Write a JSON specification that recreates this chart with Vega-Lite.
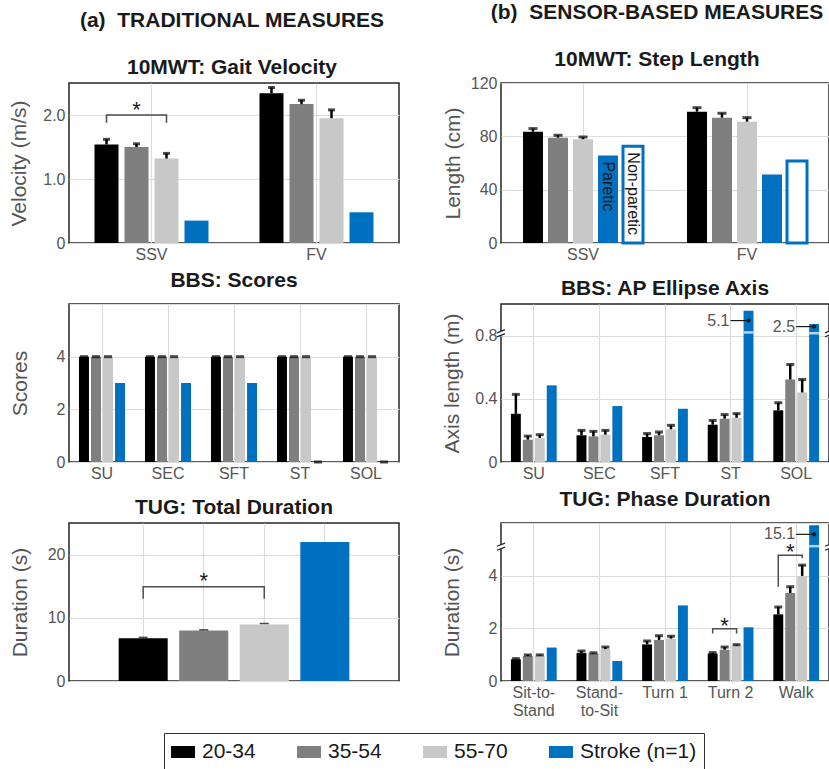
{
  "$schema": "https://vega.github.io/schema/vega-lite/v6.json",
  "padding": {"left": 8, "top": 1, "right": 0, "bottom": 0},
  "background": "white",
  "datasets": {
    "gv": [
      {"cat": "SSV", "grp": "20-34", "v": 1.54, "hi": 1.62},
      {"cat": "SSV", "grp": "35-54", "v": 1.50, "hi": 1.55},
      {"cat": "SSV", "grp": "55-70", "v": 1.32, "hi": 1.40},
      {"cat": "SSV", "grp": "Stroke (n=1)", "v": 0.35},
      {"cat": "FV", "grp": "20-34", "v": 2.34, "hi": 2.43},
      {"cat": "FV", "grp": "35-54", "v": 2.17, "hi": 2.23},
      {"cat": "FV", "grp": "55-70", "v": 1.95, "hi": 2.08},
      {"cat": "FV", "grp": "Stroke (n=1)", "v": 0.48}
    ],
    "gvb": [
      {"cat": "SSV", "grp": "20-34", "v": 1.88, "o": 1},
      {"cat": "SSV", "grp": "20-34", "v": 2.0, "o": 2},
      {"cat": "SSV", "grp": "55-70", "v": 2.0, "o": 3},
      {"cat": "SSV", "grp": "55-70", "v": 1.88, "o": 4}
    ],
    "gvs": [{"cat": "SSV", "grp": "35-54", "v": 2.08}],
    "sl": [
      {"cat": "SSV", "slot": "20-34", "grp": "20-34", "v": 83.5, "hi": 85.8},
      {"cat": "SSV", "slot": "35-54", "grp": "35-54", "v": 79, "hi": 80.8},
      {"cat": "SSV", "slot": "55-70", "grp": "55-70", "v": 77.8, "hi": 79.5},
      {"cat": "SSV", "slot": "Paretic", "grp": "Stroke (n=1)", "v": 65.7},
      {"cat": "SSV", "slot": "Non-paretic", "grp": "Stroke (n=1)", "v": 72.5},
      {"cat": "FV", "slot": "20-34", "grp": "20-34", "v": 98.5, "hi": 101.5},
      {"cat": "FV", "slot": "35-54", "grp": "35-54", "v": 94, "hi": 97.3},
      {"cat": "FV", "slot": "55-70", "grp": "55-70", "v": 91, "hi": 94},
      {"cat": "FV", "slot": "Paretic", "grp": "Stroke (n=1)", "v": 51.3},
      {"cat": "FV", "slot": "Non-paretic", "grp": "Stroke (n=1)", "v": 61.5}
    ],
    "bbs": [
      {"cat": "SU", "grp": "20-34", "v": 4, "hi": 4},
      {"cat": "SU", "grp": "35-54", "v": 4, "hi": 4},
      {"cat": "SU", "grp": "55-70", "v": 4, "hi": 4},
      {"cat": "SU", "grp": "Stroke (n=1)", "v": 3},
      {"cat": "SEC", "grp": "20-34", "v": 4, "hi": 4},
      {"cat": "SEC", "grp": "35-54", "v": 4, "hi": 4},
      {"cat": "SEC", "grp": "55-70", "v": 4, "hi": 4},
      {"cat": "SEC", "grp": "Stroke (n=1)", "v": 3},
      {"cat": "SFT", "grp": "20-34", "v": 4, "hi": 4},
      {"cat": "SFT", "grp": "35-54", "v": 4, "hi": 4},
      {"cat": "SFT", "grp": "55-70", "v": 4, "hi": 4},
      {"cat": "SFT", "grp": "Stroke (n=1)", "v": 3},
      {"cat": "ST", "grp": "20-34", "v": 4, "hi": 4},
      {"cat": "ST", "grp": "35-54", "v": 4, "hi": 4},
      {"cat": "ST", "grp": "55-70", "v": 4, "hi": 4},
      {"cat": "ST", "grp": "Stroke (n=1)", "v": 0, "hi": 0},
      {"cat": "SOL", "grp": "20-34", "v": 4, "hi": 4},
      {"cat": "SOL", "grp": "35-54", "v": 4, "hi": 4},
      {"cat": "SOL", "grp": "55-70", "v": 4, "hi": 4},
      {"cat": "SOL", "grp": "Stroke (n=1)", "v": 0, "hi": 0}
    ],
    "ap": [
      {"cat": "SU", "grp": "20-34", "v": 0.305, "hi": 0.428},
      {"cat": "SU", "grp": "35-54", "v": 0.141, "hi": 0.164},
      {"cat": "SU", "grp": "55-70", "v": 0.152, "hi": 0.173},
      {"cat": "SU", "grp": "Stroke (n=1)", "v": 0.485},
      {"cat": "SEC", "grp": "20-34", "v": 0.169, "hi": 0.2},
      {"cat": "SEC", "grp": "35-54", "v": 0.162, "hi": 0.194},
      {"cat": "SEC", "grp": "55-70", "v": 0.173, "hi": 0.2},
      {"cat": "SEC", "grp": "Stroke (n=1)", "v": 0.354},
      {"cat": "SFT", "grp": "20-34", "v": 0.158, "hi": 0.18},
      {"cat": "SFT", "grp": "35-54", "v": 0.169, "hi": 0.19},
      {"cat": "SFT", "grp": "55-70", "v": 0.207, "hi": 0.232},
      {"cat": "SFT", "grp": "Stroke (n=1)", "v": 0.337},
      {"cat": "ST", "grp": "20-34", "v": 0.236, "hi": 0.263},
      {"cat": "ST", "grp": "35-54", "v": 0.274, "hi": 0.3},
      {"cat": "ST", "grp": "55-70", "v": 0.28, "hi": 0.306},
      {"cat": "ST", "grp": "Stroke (n=1)", "v": 0.958},
      {"cat": "SOL", "grp": "20-34", "v": 0.327, "hi": 0.375},
      {"cat": "SOL", "grp": "35-54", "v": 0.522, "hi": 0.617},
      {"cat": "SOL", "grp": "55-70", "v": 0.44, "hi": 0.522},
      {"cat": "SOL", "grp": "Stroke (n=1)", "v": 0.874}
    ],
    "apa": [
      {"cat": "ST", "grp": "Stroke (n=1)", "ly": 0.895, "brk": 0.82, "txt": "5.1"},
      {"cat": "SOL", "grp": "Stroke (n=1)", "ly": 0.857, "brk": 0.815, "txt": "2.5"}
    ],
    "apk": [
      {"cat": "SU", "side": "l", "v": 0.815},
      {"cat": "SOL", "side": "r", "v": 0.815}
    ],
    "tug": [
      {"grp": "20-34", "v": 6.75, "hi": 6.9},
      {"grp": "35-54", "v": 8.0, "hi": 8.1},
      {"grp": "55-70", "v": 8.95, "hi": 9.1},
      {"grp": "Stroke (n=1)", "v": 22.0}
    ],
    "tugb": [
      {"grp": "20-34", "v": 13, "o": 1},
      {"grp": "20-34", "v": 14.9, "o": 2},
      {"grp": "55-70", "v": 14.9, "o": 3},
      {"grp": "55-70", "v": 13, "o": 4}
    ],
    "tugs": [{"grp": "35-54", "v": 15.8}],
    "ph": [
      {"cat": "Sit-to-Stand", "grp": "20-34", "v": 0.82, "hi": 0.85},
      {"cat": "Sit-to-Stand", "grp": "35-54", "v": 0.95, "hi": 0.99},
      {"cat": "Sit-to-Stand", "grp": "55-70", "v": 0.96, "hi": 0.99},
      {"cat": "Sit-to-Stand", "grp": "Stroke (n=1)", "v": 1.27},
      {"cat": "Stand-to-Sit", "grp": "20-34", "v": 1.06, "hi": 1.14},
      {"cat": "Stand-to-Sit", "grp": "35-54", "v": 1.05, "hi": 1.07},
      {"cat": "Stand-to-Sit", "grp": "55-70", "v": 1.21, "hi": 1.29},
      {"cat": "Stand-to-Sit", "grp": "Stroke (n=1)", "v": 0.76},
      {"cat": "Turn 1", "grp": "20-34", "v": 1.39, "hi": 1.52},
      {"cat": "Turn 1", "grp": "35-54", "v": 1.56, "hi": 1.72},
      {"cat": "Turn 1", "grp": "55-70", "v": 1.61, "hi": 1.70},
      {"cat": "Turn 1", "grp": "Stroke (n=1)", "v": 2.87},
      {"cat": "Turn 2", "grp": "20-34", "v": 1.04, "hi": 1.08},
      {"cat": "Turn 2", "grp": "35-54", "v": 1.19, "hi": 1.29},
      {"cat": "Turn 2", "grp": "55-70", "v": 1.34, "hi": 1.38},
      {"cat": "Turn 2", "grp": "Stroke (n=1)", "v": 2.04},
      {"cat": "Walk", "grp": "20-34", "v": 2.53, "hi": 2.81},
      {"cat": "Walk", "grp": "35-54", "v": 3.34, "hi": 3.58},
      {"cat": "Walk", "grp": "55-70", "v": 3.99, "hi": 4.40},
      {"cat": "Walk", "grp": "Stroke (n=1)", "v": 5.91}
    ],
    "pha": [
      {"cat": "Walk", "grp": "Stroke (n=1)", "ly": 5.57, "brk": 5.12, "txt": "15.1"}
    ],
    "phk": [
      {"cat": "Sit-to-Stand", "side": "l", "v": 5.1},
      {"cat": "Walk", "side": "r", "v": 5.1}
    ],
    "phb": [
      {"id": "t2", "cat": "Turn 2", "grp": "20-34", "v": 1.80, "o": 1},
      {"id": "t2", "cat": "Turn 2", "grp": "20-34", "v": 1.98, "o": 2},
      {"id": "t2", "cat": "Turn 2", "grp": "55-70", "v": 1.98, "o": 3},
      {"id": "t2", "cat": "Turn 2", "grp": "55-70", "v": 1.80, "o": 4},
      {"id": "w", "cat": "Walk", "grp": "20-34", "v": 3.58, "o": 1},
      {"id": "w", "cat": "Walk", "grp": "20-34", "v": 4.78, "o": 2},
      {"id": "w", "cat": "Walk", "grp": "55-70", "v": 4.78, "o": 3},
      {"id": "w", "cat": "Walk", "grp": "55-70", "v": 4.66, "o": 4}
    ],
    "phs": [
      {"cat": "Turn 2", "grp": "35-54", "v": 2.09},
      {"cat": "Walk", "grp": "35-54", "v": 4.88}
    ]
  },
  "bounds": "flush",
  "columns": 2,
  "spacing": {"row": 61, "column": 102},
  "resolve": {"scale": {"xOffset": "independent"}},
  "concat": [
    {
      "width": 330, "height": 160,
      "title": {"text": "(a)\u00a0 TRADITIONAL MEASURES", "subtitle": "10MWT: Gait Velocity", "fontSize": 21, "subtitleFont": "Liberation Sans", "subtitleFontSize": 21, "subtitleFontWeight": "bold", "subtitleColor": "#1a1a1a", "subtitlePadding": 26, "dx": -2},
      "data": {"name": "gv"},
      "encoding": {
        "x": {"field": "cat", "type": "nominal", "scale": {"domain": ["SSV", "FV"], "paddingInner": 0, "paddingOuter": 0}, "axis": {"title": null}},
        "xOffset": {"field": "grp", "type": "nominal", "scale": {"domain": ["20-34", "35-54", "55-70", "Stroke (n=1)"], "paddingInner": 0.2, "paddingOuter": 0.85}}
      },
      "layer": [
        {"mark": "bar", "encoding": {
          "y": {"field": "v", "type": "quantitative", "scale": {"domain": [0, 2.5], "nice": false}, "axis": {"title": "Velocity (m/s)", "values": [0, 0.5, 1, 1.5, 2, 2.5], "labelExpr": "datum.value == 0 ? '0' : (datum.value == 1 || datum.value == 2) ? format(datum.value, '.1f') : ''", "titlePadding": 13}},
          "color": {"field": "grp", "type": "nominal", "scale": {"domain": ["20-34", "35-54", "55-70", "Stroke (n=1)"], "range": ["#000000", "#7f7f7f", "#c8c8c8", "#0070c0"]}, "legend": {"title": null, "orient": "none", "legendX": 95, "legendY": 650, "direction": "horizontal", "columns": 4, "symbolType": "M-1,-0.5L1,-0.5L1,0.5L-1,0.5Z", "symbolSize": 576, "symbolStrokeWidth": 0, "symbolOpacity": 1, "labelFontSize": 21, "labelColor": "#1a1a1a", "labelOffset": 7, "columnPadding": 41, "padding": 7, "strokeColor": "#333333", "labelLimit": 300}}
        }},
        {"transform": [{"filter": "isValid(datum.hi)"}], "mark": {"type": "rule", "color": "#000000", "strokeWidth": 2.5}, "encoding": {"y": {"field": "v", "type": "quantitative"}, "y2": {"field": "hi"}}},
        {"transform": [{"filter": "isValid(datum.hi)"}], "mark": {"type": "tick", "orient": "horizontal", "color": "#000000", "size": 7, "thickness": 3}, "encoding": {"y": {"field": "hi", "type": "quantitative"}}},
        {"data": {"name": "gvb"}, "mark": {"type": "line", "color": "#4d4d4d", "strokeWidth": 1.5}, "encoding": {"y": {"field": "v", "type": "quantitative"}, "order": {"field": "o"}}},
        {"data": {"name": "gvs"}, "mark": {"type": "text", "text": "*", "fontSize": 22, "color": "#1a1a1a", "baseline": "middle"}, "encoding": {"y": {"field": "v", "type": "quantitative"}}}
      ]
    },
    {
      "width": 328, "height": 160,
      "title": {"text": "(b)\u00a0 SENSOR-BASED MEASURES", "subtitle": "10MWT: Step Length", "fontSize": 21, "subtitleFont": "Liberation Sans", "subtitleFontSize": 21, "subtitleFontWeight": "bold", "subtitleColor": "#1a1a1a", "subtitlePadding": 26, "dx": -8},
      "data": {"name": "sl"},
      "encoding": {
        "x": {"field": "cat", "type": "nominal", "scale": {"domain": ["SSV", "FV"], "paddingInner": 0, "paddingOuter": 0}, "axis": {"title": null}},
        "xOffset": {"field": "slot", "type": "nominal", "scale": {"domain": ["20-34", "35-54", "55-70", "Paretic", "Non-paretic"], "paddingInner": 0.2, "paddingOuter": 0.88}}
      },
      "layer": [
        {"transform": [{"filter": "datum.slot != 'Non-paretic'"}], "mark": "bar", "encoding": {
          "y": {"field": "v", "type": "quantitative", "scale": {"domain": [0, 120], "nice": false}, "axis": {"title": "Length (cm)", "values": [0, 20, 40, 60, 80, 100, 120], "labelExpr": "(datum.value % 40 == 0) ? datum.label : ''", "titlePadding": 7}},
          "color": {"field": "grp", "type": "nominal", "scale": {"domain": ["20-34", "35-54", "55-70", "Stroke (n=1)"], "range": ["#000000", "#7f7f7f", "#c8c8c8", "#0070c0"]}, "legend": {"title": null, "orient": "none", "legendX": 95, "legendY": 650, "direction": "horizontal", "columns": 4, "symbolType": "M-1,-0.5L1,-0.5L1,0.5L-1,0.5Z", "symbolSize": 576, "symbolStrokeWidth": 0, "symbolOpacity": 1, "labelFontSize": 21, "labelColor": "#1a1a1a", "labelOffset": 7, "columnPadding": 41, "padding": 7, "strokeColor": "#333333", "labelLimit": 300}}
        }},
        {"transform": [{"filter": "datum.slot == 'Non-paretic'"}], "mark": {"type": "bar", "fill": "white", "stroke": "#0070c0", "strokeWidth": 3}, "encoding": {"y": {"field": "v", "type": "quantitative"}}},
        {"transform": [{"filter": "isValid(datum.hi)"}], "mark": {"type": "rule", "color": "#000000", "strokeWidth": 2.5}, "encoding": {"y": {"field": "v", "type": "quantitative"}, "y2": {"field": "hi"}}},
        {"transform": [{"filter": "isValid(datum.hi)"}], "mark": {"type": "tick", "orient": "horizontal", "color": "#000000", "size": 9, "thickness": 3}, "encoding": {"y": {"field": "hi", "type": "quantitative"}}},
        {"transform": [{"filter": "datum.cat == 'SSV' && (datum.slot == 'Paretic' || datum.slot == 'Non-paretic')"}], "mark": {"type": "text", "angle": 90, "align": "left", "baseline": "middle", "dx": 6, "fontSize": 16, "color": "#1a1a1a"}, "encoding": {"y": {"field": "v", "type": "quantitative"}, "text": {"field": "slot"}}}
      ]
    },
    {
      "width": 330, "height": 158,
      "title": "BBS: Scores",
      "data": {"name": "bbs"},
      "encoding": {
        "x": {"field": "cat", "type": "nominal", "scale": {"domain": ["SU", "SEC", "SFT", "ST", "SOL"], "paddingInner": 0, "paddingOuter": 0}, "axis": {"title": null}},
        "xOffset": {"field": "grp", "type": "nominal", "scale": {"domain": ["20-34", "35-54", "55-70", "Stroke (n=1)"], "paddingInner": 0.17, "paddingOuter": 0.83}}
      },
      "layer": [
        {"mark": "bar", "encoding": {
          "y": {"field": "v", "type": "quantitative", "scale": {"domain": [0, 6], "nice": false}, "axis": {"title": "Scores", "values": [0, 1, 2, 3, 4, 5, 6], "labelExpr": "(datum.value == 0 || datum.value == 2 || datum.value == 4) ? datum.label : ''", "titlePadding": 26}},
          "color": {"field": "grp", "type": "nominal", "scale": {"domain": ["20-34", "35-54", "55-70", "Stroke (n=1)"], "range": ["#000000", "#7f7f7f", "#c8c8c8", "#0070c0"]}, "legend": {"title": null, "orient": "none", "legendX": 95, "legendY": 650, "direction": "horizontal", "columns": 4, "symbolType": "M-1,-0.5L1,-0.5L1,0.5L-1,0.5Z", "symbolSize": 576, "symbolStrokeWidth": 0, "symbolOpacity": 1, "labelFontSize": 21, "labelColor": "#1a1a1a", "labelOffset": 7, "columnPadding": 41, "padding": 7, "strokeColor": "#333333", "labelLimit": 300}}
        }},
        {"transform": [{"filter": "isValid(datum.hi)"}], "mark": {"type": "tick", "orient": "horizontal", "color": "#000000", "size": 8, "thickness": 3}, "encoding": {"y": {"field": "hi", "type": "quantitative"}}}
      ]
    },
    {
      "width": 328, "height": 158,
      "title": "BBS: AP Ellipse Axis",
      "data": {"name": "ap"},
      "encoding": {
        "x": {"field": "cat", "type": "nominal", "scale": {"domain": ["SU", "SEC", "SFT", "ST", "SOL"], "paddingInner": 0, "paddingOuter": 0}, "axis": {"title": null}},
        "xOffset": {"field": "grp", "type": "nominal", "scale": {"domain": ["20-34", "35-54", "55-70", "Stroke (n=1)"], "paddingInner": 0.17, "paddingOuter": 0.83}}
      },
      "layer": [
        {"mark": "bar", "encoding": {
          "y": {"field": "v", "type": "quantitative", "scale": {"domain": [0, 1], "nice": false}, "axis": {"title": "Axis length (m)", "values": [0, 0.2, 0.4, 0.6, 0.8, 1], "labelExpr": "datum.value == 0 ? '0' : (datum.value == 0.4 || datum.value == 0.8) ? format(datum.value, '.1f') : ''", "titlePadding": 12}},
          "color": {"field": "grp", "type": "nominal", "scale": {"domain": ["20-34", "35-54", "55-70", "Stroke (n=1)"], "range": ["#000000", "#7f7f7f", "#c8c8c8", "#0070c0"]}, "legend": {"title": null, "orient": "none", "legendX": 95, "legendY": 650, "direction": "horizontal", "columns": 4, "symbolType": "M-1,-0.5L1,-0.5L1,0.5L-1,0.5Z", "symbolSize": 576, "symbolStrokeWidth": 0, "symbolOpacity": 1, "labelFontSize": 21, "labelColor": "#1a1a1a", "labelOffset": 7, "columnPadding": 41, "padding": 7, "strokeColor": "#333333", "labelLimit": 300}}
        }},
        {"transform": [{"filter": "isValid(datum.hi)"}], "mark": {"type": "rule", "color": "#000000", "strokeWidth": 2.5}, "encoding": {"y": {"field": "v", "type": "quantitative"}, "y2": {"field": "hi"}}},
        {"transform": [{"filter": "isValid(datum.hi)"}], "mark": {"type": "tick", "orient": "horizontal", "color": "#000000", "size": 8, "thickness": 3}, "encoding": {"y": {"field": "hi", "type": "quantitative"}}},
        {"data": {"name": "apa"}, "mark": {"type": "tick", "orient": "horizontal", "color": "white", "size": 10, "thickness": 2.5}, "encoding": {"y": {"field": "brk", "type": "quantitative"}}},
        {"data": {"name": "apa"}, "mark": {"type": "point", "shape": "M-1,0L0,0", "size": 1296, "filled": false, "stroke": "#1a1a1a", "strokeWidth": 1.2, "opacity": 1}, "encoding": {"y": {"field": "ly", "type": "quantitative"}}},
        {"data": {"name": "apa"}, "mark": {"type": "circle", "size": 18, "color": "#1a1a1a", "opacity": 1}, "encoding": {"y": {"field": "ly", "type": "quantitative"}}},
        {"data": {"name": "apa"}, "mark": {"type": "text", "align": "right", "baseline": "middle", "dx": -19, "fontSize": 16, "color": "#555555"}, "encoding": {"y": {"field": "ly", "type": "quantitative"}, "text": {"field": "txt"}}},
        {"data": {"name": "apk"}, "transform": [{"filter": "datum.side == 'l'"}], "mark": {"type": "point", "shape": "M-1,-0.1L1,-0.9L1,0.1L-1,0.9Z", "size": 64, "filled": true, "color": "white", "opacity": 1}, "encoding": {"x": {"field": "cat", "type": "nominal", "bandPosition": 0}, "xOffset": null, "y": {"field": "v", "type": "quantitative"}}},
        {"data": {"name": "apk"}, "transform": [{"filter": "datum.side == 'l'"}], "mark": {"type": "point", "shape": "M-1,-0.1L1,-0.9M-1,0.9L1,0.1", "size": 64, "filled": false, "stroke": "#262626", "strokeWidth": 1.2, "opacity": 1}, "encoding": {"x": {"field": "cat", "type": "nominal", "bandPosition": 0}, "xOffset": null, "y": {"field": "v", "type": "quantitative"}}},
        {"data": {"name": "apk"}, "transform": [{"filter": "datum.side == 'r'"}], "mark": {"type": "point", "shape": "M-1,-0.1L1,-0.9L1,0.1L-1,0.9Z", "size": 64, "filled": true, "color": "white", "opacity": 1}, "encoding": {"x": {"field": "cat", "type": "nominal", "bandPosition": 1}, "xOffset": null, "y": {"field": "v", "type": "quantitative"}}},
        {"data": {"name": "apk"}, "transform": [{"filter": "datum.side == 'r'"}], "mark": {"type": "point", "shape": "M-1,-0.1L1,-0.9M-1,0.9L1,0.1", "size": 64, "filled": false, "stroke": "#262626", "strokeWidth": 1.2, "opacity": 1}, "encoding": {"x": {"field": "cat", "type": "nominal", "bandPosition": 1}, "xOffset": null, "y": {"field": "v", "type": "quantitative"}}}
      ]
    },
    {
      "width": 330, "height": 158,
      "title": "TUG: Total Duration",
      "data": {"name": "tug"},
      "encoding": {
        "x": {"field": "grp", "type": "nominal", "scale": {"domain": ["20-34", "35-54", "55-70", "Stroke (n=1)"], "paddingInner": 0.19, "paddingOuter": 0.82}, "axis": {"title": null, "labels": false}}
      },
      "layer": [
        {"mark": "bar", "encoding": {
          "y": {"field": "v", "type": "quantitative", "scale": {"domain": [0, 25], "nice": false}, "axis": {"title": "Duration (s)", "values": [0, 5, 10, 15, 20, 25], "labelExpr": "(datum.value == 0 || datum.value == 10 || datum.value == 20) ? datum.label : ''", "titlePadding": 17}},
          "color": {"field": "grp", "type": "nominal", "scale": {"domain": ["20-34", "35-54", "55-70", "Stroke (n=1)"], "range": ["#000000", "#7f7f7f", "#c8c8c8", "#0070c0"]}, "legend": {"title": null, "orient": "none", "legendX": 95, "legendY": 650, "direction": "horizontal", "columns": 4, "symbolType": "M-1,-0.5L1,-0.5L1,0.5L-1,0.5Z", "symbolSize": 576, "symbolStrokeWidth": 0, "symbolOpacity": 1, "labelFontSize": 21, "labelColor": "#1a1a1a", "labelOffset": 7, "columnPadding": 41, "padding": 7, "strokeColor": "#333333", "labelLimit": 300}}
        }},
        {"transform": [{"filter": "isValid(datum.hi)"}], "mark": {"type": "tick", "orient": "horizontal", "color": "#000000", "size": 9, "thickness": 1.5}, "encoding": {"y": {"field": "hi", "type": "quantitative"}}},
        {"data": {"name": "tugb"}, "mark": {"type": "line", "color": "#4d4d4d", "strokeWidth": 1.5}, "encoding": {"y": {"field": "v", "type": "quantitative"}, "order": {"field": "o"}}},
        {"data": {"name": "tugs"}, "mark": {"type": "text", "text": "*", "fontSize": 22, "color": "#1a1a1a", "baseline": "middle"}, "encoding": {"y": {"field": "v", "type": "quantitative"}}}
      ]
    },
    {
      "width": 328, "height": 158,
      "title": "TUG: Phase Duration",
      "data": {"name": "ph"},
      "encoding": {
        "x": {"field": "cat", "type": "nominal", "scale": {"domain": ["Sit-to-Stand", "Stand-to-Sit", "Turn 1", "Turn 2", "Walk"], "paddingInner": 0, "paddingOuter": 0}, "axis": {"title": null, "labelLineHeight": 18, "labelExpr": "datum.value == 'Sit-to-Stand' ? ['Sit-to-', 'Stand'] : datum.value == 'Stand-to-Sit' ? ['Stand-', 'to-Sit'] : datum.label"}},
        "xOffset": {"field": "grp", "type": "nominal", "scale": {"domain": ["20-34", "35-54", "55-70", "Stroke (n=1)"], "paddingInner": 0.17, "paddingOuter": 0.83}}
      },
      "layer": [
        {"mark": "bar", "encoding": {
          "y": {"field": "v", "type": "quantitative", "scale": {"domain": [0, 6], "nice": false}, "axis": {"title": "Duration (s)", "values": [0, 1, 2, 3, 4, 5, 6], "labelExpr": "(datum.value == 0 || datum.value == 2 || datum.value == 4) ? datum.label : ''", "titlePadding": 26}},
          "color": {"field": "grp", "type": "nominal", "scale": {"domain": ["20-34", "35-54", "55-70", "Stroke (n=1)"], "range": ["#000000", "#7f7f7f", "#c8c8c8", "#0070c0"]}, "legend": {"title": null, "orient": "none", "legendX": 95, "legendY": 650, "direction": "horizontal", "columns": 4, "symbolType": "M-1,-0.5L1,-0.5L1,0.5L-1,0.5Z", "symbolSize": 576, "symbolStrokeWidth": 0, "symbolOpacity": 1, "labelFontSize": 21, "labelColor": "#1a1a1a", "labelOffset": 7, "columnPadding": 41, "padding": 7, "strokeColor": "#333333", "labelLimit": 300}}
        }},
        {"transform": [{"filter": "isValid(datum.hi)"}], "mark": {"type": "rule", "color": "#000000", "strokeWidth": 2.5}, "encoding": {"y": {"field": "v", "type": "quantitative"}, "y2": {"field": "hi"}}},
        {"transform": [{"filter": "isValid(datum.hi)"}], "mark": {"type": "tick", "orient": "horizontal", "color": "#000000", "size": 8, "thickness": 3}, "encoding": {"y": {"field": "hi", "type": "quantitative"}}},
        {"data": {"name": "pha"}, "mark": {"type": "tick", "orient": "horizontal", "color": "white", "size": 10, "thickness": 2.5}, "encoding": {"y": {"field": "brk", "type": "quantitative"}}},
        {"data": {"name": "pha"}, "mark": {"type": "point", "shape": "M-1,0L0,0", "size": 1296, "filled": false, "stroke": "#1a1a1a", "strokeWidth": 1.2, "opacity": 1}, "encoding": {"y": {"field": "ly", "type": "quantitative"}}},
        {"data": {"name": "pha"}, "mark": {"type": "circle", "size": 18, "color": "#1a1a1a", "opacity": 1}, "encoding": {"y": {"field": "ly", "type": "quantitative"}}},
        {"data": {"name": "pha"}, "mark": {"type": "text", "align": "right", "baseline": "middle", "dx": -19, "fontSize": 16, "color": "#555555"}, "encoding": {"y": {"field": "ly", "type": "quantitative"}, "text": {"field": "txt"}}},
        {"data": {"name": "phb"}, "mark": {"type": "line", "color": "#4d4d4d", "strokeWidth": 1.5}, "encoding": {"y": {"field": "v", "type": "quantitative"}, "order": {"field": "o"}, "detail": {"field": "id"}}},
        {"data": {"name": "phs"}, "mark": {"type": "text", "text": "*", "fontSize": 22, "color": "#1a1a1a", "baseline": "middle"}, "encoding": {"y": {"field": "v", "type": "quantitative"}}},
        {"data": {"name": "phk"}, "transform": [{"filter": "datum.side == 'l'"}], "mark": {"type": "point", "shape": "M-1,-0.1L1,-0.9L1,0.1L-1,0.9Z", "size": 64, "filled": true, "color": "white", "opacity": 1}, "encoding": {"x": {"field": "cat", "type": "nominal", "bandPosition": 0}, "xOffset": null, "y": {"field": "v", "type": "quantitative"}}},
        {"data": {"name": "phk"}, "transform": [{"filter": "datum.side == 'l'"}], "mark": {"type": "point", "shape": "M-1,-0.1L1,-0.9M-1,0.9L1,0.1", "size": 64, "filled": false, "stroke": "#262626", "strokeWidth": 1.2, "opacity": 1}, "encoding": {"x": {"field": "cat", "type": "nominal", "bandPosition": 0}, "xOffset": null, "y": {"field": "v", "type": "quantitative"}}},
        {"data": {"name": "phk"}, "transform": [{"filter": "datum.side == 'r'"}], "mark": {"type": "point", "shape": "M-1,-0.1L1,-0.9L1,0.1L-1,0.9Z", "size": 64, "filled": true, "color": "white", "opacity": 1}, "encoding": {"x": {"field": "cat", "type": "nominal", "bandPosition": 1}, "xOffset": null, "y": {"field": "v", "type": "quantitative"}}},
        {"data": {"name": "phk"}, "transform": [{"filter": "datum.side == 'r'"}], "mark": {"type": "point", "shape": "M-1,-0.1L1,-0.9M-1,0.9L1,0.1", "size": 64, "filled": false, "stroke": "#262626", "strokeWidth": 1.2, "opacity": 1}, "encoding": {"x": {"field": "cat", "type": "nominal", "bandPosition": 1}, "xOffset": null, "y": {"field": "v", "type": "quantitative"}}}
      ]
    }
  ],
  "config": {
    "font": "Liberation Sans",
    "view": {"stroke": "#262626", "strokeWidth": 1.5},
    "axis": {"domain": false, "ticks": false, "grid": true, "gridColor": "#dcdcdc", "gridWidth": 1.2, "labelFontSize": 16, "labelColor": "#555555", "labelPadding": 4, "titleFontSize": 21, "titleFontWeight": "normal", "titleColor": "#555555", "labelFlush": false, "labelOverlap": false},
    "axisX": {"labelAngle": 0, "labelPadding": 3, "bandPosition": 0.5},
    "title": {"fontSize": 21, "fontWeight": "bold", "color": "#1a1a1a", "offset": 5},
    "legend": {"labelFont": "Liberation Sans"}
  }
}
